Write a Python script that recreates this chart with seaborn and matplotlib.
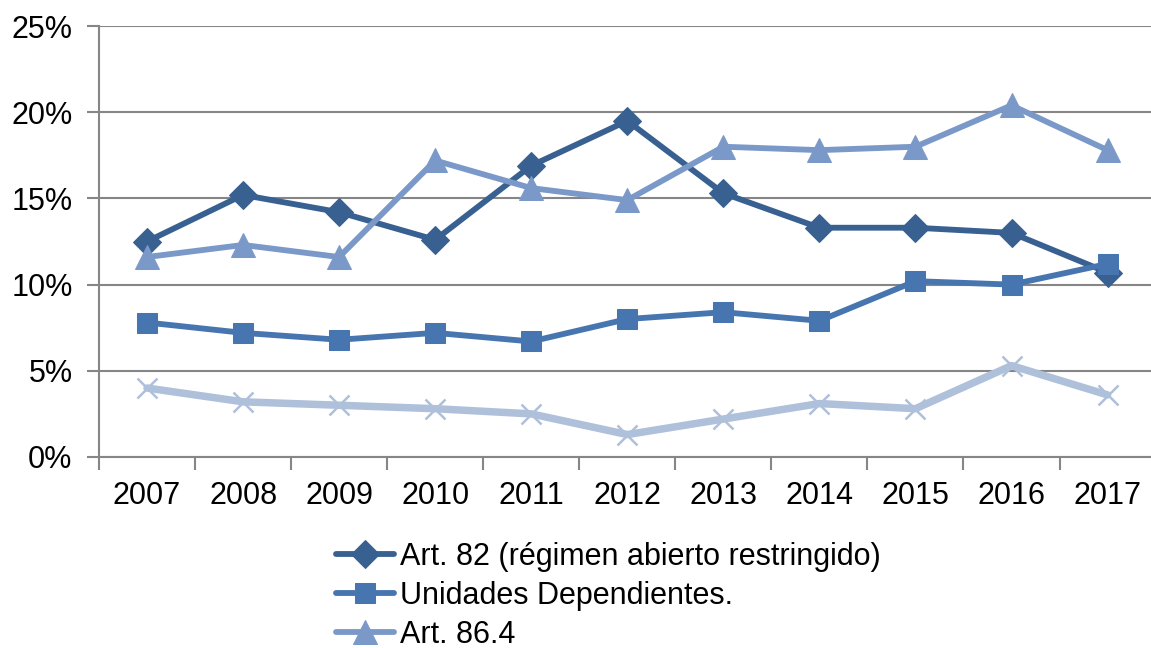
import numpy as np
import pandas as pd
import matplotlib
matplotlib.use("Agg")
import matplotlib.pyplot as plt
import seaborn as sns
from matplotlib.ticker import FixedLocator, PercentFormatter

years = ['2007', '2008', '2009', '2010', '2011', '2012', '2013', '2014', '2015', '2016', '2017']

art82 = [12.5, 15.2, 14.2, 12.6, 16.9, 19.5, 15.3, 13.3, 13.3, 13.0, 10.7]
unidades = [7.8, 7.2, 6.8, 7.2, 6.7, 8.0, 8.4, 7.9, 10.2, 10.0, 11.2]
art864 = [11.6, 12.3, 11.6, 17.2, 15.6, 14.9, 18.0, 17.8, 18.0, 20.4, 17.8]
otros = [4.0, 3.2, 3.0, 2.8, 2.5, 1.3, 2.2, 3.1, 2.8, 5.3, 3.6]

names = ['Art. 82 (régimen abierto restringido)', 'Unidades Dependientes.', 'Art. 86.4', 'Otros']
colores = ['#386192', '#4775AF', '#7B99C8', '#AFC0DA']

sns.set_style('white')
plt.rcParams['font.family'] = ['Liberation Sans', 'DejaVu Sans']
plt.rcParams['text.color'] = 'black'
plt.rcParams['xtick.color'] = 'black'
plt.rcParams['ytick.color'] = 'black'

df = pd.DataFrame({'year': years, 'idx': np.arange(len(years))})
series = [art82, unidades, art864, otros]
for n, s in zip(names, series):
    df[n] = s

fig = plt.figure(figsize=(11.51, 6.48), dpi=100)
ax = fig.add_axes([0.086, 0.2948, 0.918, 0.665])

estilos = [
    dict(marker='D', markersize=14, lw=4.2),
    dict(marker='s', markersize=15, lw=4.2),
    dict(marker='^', markersize=17, lw=4.2),
    dict(marker='x', markersize=15, lw=5.4, markeredgewidth=1.8),
]

for n, c, st in zip(names, colores, estilos):
    sns.lineplot(data=df, x='idx', y=n, ax=ax, color=c, label=n, markeredgecolor=c,
                 **st)

ax.set_xlim(-0.5, len(years) - 0.5)
ax.set_ylim(0, 25)
ax.yaxis.set_major_locator(FixedLocator([0, 5, 10, 15, 20, 25]))
ax.yaxis.set_major_formatter(PercentFormatter(decimals=0))
ax.set_xticks(np.arange(len(years)))
ax.set_xticklabels(years)
ax.xaxis.set_minor_locator(FixedLocator(np.arange(-0.5, len(years), 1)))
ax.tick_params(axis='x', which='major', bottom=False, length=0, pad=17, labelsize=22)
ax.tick_params(axis='x', which='minor', bottom=True, length=9, width=1.5, color='#868686', direction='out')
ax.tick_params(axis='y', left=True, length=9, width=1.5, color='#868686', labelcolor='black',
               direction='out', labelsize=22, pad=10)
ax.grid(axis='y', color='#868686', lw=1.5)
ax.set_axisbelow(True)
ax.set_xlabel('')
ax.set_ylabel('')
for side in ['top', 'right']:
    ax.spines[side].set_visible(False)
for side in ['left', 'bottom']:
    ax.spines[side].set_color('#868686')
    ax.spines[side].set_linewidth(1.5)

handles, labels = ax.get_legend_handles_labels()
ax.get_legend().remove()
fig.legend(handles[:3], labels[:3], loc='upper left', bbox_to_anchor=(0.292, 0.164),
           frameon=False, fontsize=22, handlelength=1.9, handletextpad=0.2,
           labelspacing=0.3, borderaxespad=0, borderpad=0)

fig.savefig('out.png', dpi=100)
